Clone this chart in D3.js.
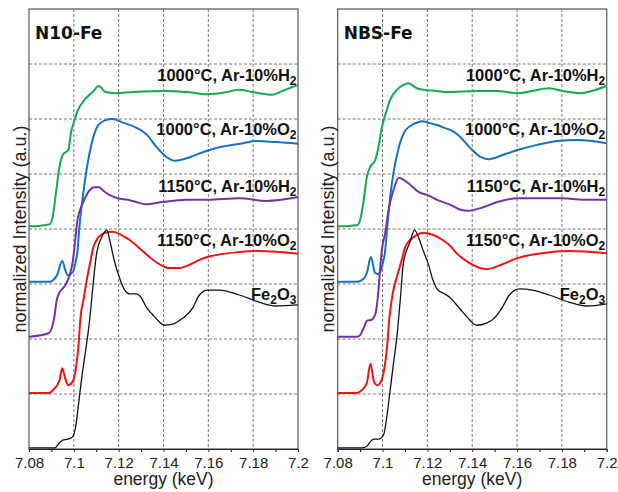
<!DOCTYPE html>
<html>
<head>
<meta charset="utf-8">
<script src="https://cdn.jsdelivr.net/npm/d3@7"></script>
<style>
  body { margin: 0; background: #fff; }
  svg text { font-family: "Liberation Sans", Arial, sans-serif; }
</style>
</head>
<body>
<div id="chart"></div>
<script>
'use strict';

const w = 618;
const h = 492;

// axis values
const energyTicks = [7.08, 7.1, 7.12, 7.14, 7.16, 7.18, 7.2];
const energyMinor = [7.09, 7.11, 7.13, 7.15, 7.17, 7.19];
const gridY = [1, 2, 3, 4, 5, 6, 7];

const panelTitles = ["N10-Fe", "NBS-Fe"];

// series order: 1000C H2, 1000C O2, 1150C H2, 1150C O2, Fe2O3
const seriesLabels = [
  [["1000°C, Ar-10%H", 0], ["2", 1]],
  [["1000°C, Ar-10%O", 0], ["2", 1]],
  [["1150°C, Ar-10%H", 0], ["2", 1]],
  [["1150°C, Ar-10%O", 0], ["2", 1]],
  [["Fe", 0], ["2", 1], ["O", 0], ["3", 1]]
];
const seriesColors = ["#17a952", "#1672c0", "#7234a2", "#ee1414", "#111111"];
const seriesWidths = [2, 2, 2, 2, 1.3];

// N10-Fe spectra [energy keV, stacked intensity a.u.]
const n10H2_1000 = [[7.080,4.05],[7.087,4.07],[7.0893,4.09],[7.0907,4.25],[7.092,4.65],[7.0936,5.13],[7.0951,5.35],[7.0976,5.44],[7.0987,5.75],[7.1003,5.98],[7.1018,6.16],[7.1048,6.35],[7.1084,6.49],[7.1111,6.60],[7.1142,6.49],[7.1182,6.47],[7.1262,6.49],[7.1413,6.51],[7.1502,6.49],[7.1596,6.45],[7.1670,6.48],[7.1738,6.53],[7.1796,6.49],[7.1884,6.44],[7.1929,6.51],[7.2,6.62]];
const n10O2_1000 = [[7.080,3.04],[7.089,3.04],[7.0907,3.07],[7.0925,3.16],[7.0948,3.42],[7.0962,3.25],[7.0973,3.16],[7.0996,3.22],[7.1010,3.44],[7.1015,3.55],[7.1025,4.04],[7.1042,4.65],[7.1064,5.25],[7.1087,5.67],[7.1109,5.89],[7.1142,5.98],[7.1173,6.00],[7.1222,5.93],[7.1280,5.84],[7.1324,5.72],[7.1369,5.49],[7.1413,5.31],[7.1453,5.24],[7.1520,5.31],[7.1578,5.40],[7.1653,5.49],[7.1756,5.56],[7.1813,5.60],[7.1902,5.58],[7.2,5.55]];
const n10H2_1150 = [[7.080,2.04],[7.089,2.11],[7.0912,2.38],[7.0924,2.71],[7.0935,2.84],[7.0957,2.95],[7.0979,3.13],[7.0994,3.38],[7.1008,3.86],[7.1016,4.16],[7.1040,4.47],[7.1064,4.67],[7.1093,4.76],[7.1113,4.76],[7.1133,4.69],[7.1158,4.62],[7.1196,4.56],[7.1240,4.53],[7.1262,4.51],[7.1324,4.45],[7.1396,4.49],[7.1502,4.53],[7.1596,4.53],[7.1738,4.56],[7.1858,4.51],[7.2,4.58]];
const n10O2_1150 = [[7.080,1.02],[7.089,1.02],[7.0907,1.07],[7.0936,1.25],[7.0948,1.47],[7.0961,1.29],[7.0975,1.16],[7.0994,1.22],[7.1008,1.44],[7.1019,1.80],[7.1030,2.40],[7.1045,2.76],[7.1060,3.13],[7.1071,3.35],[7.1086,3.65],[7.1108,3.84],[7.1138,3.93],[7.1173,3.95],[7.1212,3.89],[7.1249,3.80],[7.1293,3.65],[7.1338,3.49],[7.1382,3.36],[7.1427,3.29],[7.1471,3.29],[7.1516,3.35],[7.1560,3.44],[7.1596,3.49],[7.1738,3.58],[7.1827,3.60],[7.2,3.55]];
const n10Fe2O3 = [[7.080,0.02],[7.0916,0.02],[7.0935,0.11],[7.095,0.16],[7.0972,0.18],[7.0994,0.22],[7.1008,0.40],[7.1023,0.89],[7.1038,1.38],[7.1053,1.80],[7.1069,2.29],[7.1085,2.95],[7.1100,3.51],[7.1123,3.84],[7.1138,3.95],[7.1148,3.98],[7.1160,3.80],[7.1182,3.40],[7.1204,3.11],[7.1227,2.89],[7.1249,2.82],[7.1279,2.82],[7.1301,2.75],[7.1323,2.58],[7.1352,2.44],[7.1382,2.31],[7.1404,2.25],[7.1441,2.27],[7.1486,2.38],[7.1530,2.56],[7.1560,2.80],[7.1596,2.89],[7.1649,2.89],[7.1738,2.80],[7.1827,2.67],[7.1902,2.60],[7.2,2.62]];

// NBS-Fe spectra
const nbsH2_1000 = [[7.080,4.05],[7.0886,4.07],[7.0900,4.16],[7.0916,4.53],[7.0930,4.95],[7.0945,5.13],[7.0967,5.25],[7.0982,5.49],[7.0997,5.85],[7.1012,6.07],[7.1034,6.35],[7.1064,6.53],[7.1093,6.62],[7.1116,6.65],[7.1152,6.56],[7.1182,6.53],[7.1241,6.51],[7.1286,6.49],[7.1419,6.51],[7.1508,6.51],[7.1601,6.47],[7.1744,6.56],[7.1801,6.51],[7.1877,6.47],[7.2,6.60]];
const nbsO2_1000 = [[7.080,3.04],[7.0886,3.04],[7.0908,3.07],[7.0930,3.20],[7.0948,3.49],[7.0967,3.20],[7.0982,3.18],[7.0997,3.31],[7.1012,3.62],[7.1021,4.04],[7.1036,4.65],[7.1051,5.07],[7.1073,5.49],[7.1103,5.80],[7.1140,5.91],[7.1177,5.96],[7.1207,5.93],[7.1244,5.89],[7.1288,5.82],[7.1303,5.80],[7.1348,5.67],[7.1392,5.47],[7.1437,5.31],[7.1472,5.27],[7.1539,5.35],[7.1606,5.44],[7.1690,5.53],[7.1779,5.60],[7.1868,5.62],[7.2,5.56]];
const nbsH2_1150 = [[7.080,2.04],[7.0886,2.04],[7.0900,2.07],[7.0916,2.20],[7.0930,2.33],[7.0952,2.35],[7.0967,2.44],[7.0982,2.89],[7.0990,3.31],[7.0997,3.62],[7.1012,3.93],[7.1027,4.35],[7.1049,4.71],[7.1073,4.93],[7.1096,4.89],[7.1125,4.80],[7.1162,4.67],[7.1199,4.62],[7.1244,4.53],[7.1303,4.44],[7.1348,4.35],[7.1383,4.33],[7.1437,4.38],[7.1512,4.49],[7.1606,4.56],[7.1717,4.56],[7.1806,4.56],[7.1895,4.53],[7.2,4.53]];
const nbsO2_1150 = [[7.080,1.02],[7.0886,1.02],[7.0908,1.07],[7.0930,1.20],[7.0946,1.55],[7.0962,1.22],[7.0977,1.16],[7.0992,1.22],[7.1007,1.44],[7.1019,1.80],[7.1031,2.40],[7.1046,2.84],[7.1064,3.13],[7.1086,3.44],[7.1101,3.67],[7.1123,3.80],[7.1152,3.89],[7.1182,3.93],[7.1226,3.89],[7.1268,3.80],[7.1300,3.70],[7.1330,3.56],[7.1388,3.38],[7.1464,3.27],[7.1535,3.36],[7.1601,3.47],[7.1712,3.56],[7.1832,3.60],[7.2,3.56]];
const nbsFe2O3 = [[7.080,0.02],[7.0908,0.02],[7.0930,0.05],[7.0945,0.13],[7.0960,0.18],[7.0982,0.18],[7.1004,0.25],[7.1019,0.58],[7.1034,1.07],[7.1049,1.56],[7.1064,2.04],[7.1079,2.71],[7.1093,3.38],[7.1101,3.53],[7.1121,3.75],[7.1143,3.98],[7.1165,3.80],[7.1180,3.62],[7.1203,3.38],[7.1225,3.07],[7.1247,2.89],[7.1268,2.84],[7.1299,2.76],[7.1343,2.56],[7.1388,2.35],[7.1419,2.25],[7.1464,2.29],[7.1499,2.38],[7.1535,2.58],[7.1566,2.80],[7.1611,2.91],[7.1668,2.89],[7.1744,2.80],[7.1832,2.67],[7.1908,2.60],[7.2,2.64]];

const panelSeries = [
  [n10H2_1000, n10O2_1000, n10H2_1150, n10O2_1150, n10Fe2O3],
  [nbsH2_1000, nbsO2_1000, nbsH2_1150, nbsO2_1150, nbsFe2O3]
];

// label baselines in data units (layout)
const labelY = [6.69, 5.71, 4.67, 3.69, 2.71];

const plotTop = 9, plotBottom = 449;
const panelX = [[29, 298], [337.7, 606.7]];

const svg = d3.select("#chart").append("svg")
  .attr("width", w)
  .attr("height", h);

const y = d3.scaleLinear().domain([0, 8]).range([plotBottom, plotTop]);

function drawPanel(idx) {
  const [x0, x1] = panelX[idx];
  const x = d3.scaleLinear().domain([7.08, 7.2]).range([x0, x1]);
  const g = svg.append("g");

  //gridlines
  g.selectAll("line.vgrid")
    .data(energyTicks.slice(1, -1))
    .enter().append("line")
    .attr("x1", d => x(d)).attr("x2", d => x(d))
    .attr("y1", plotTop).attr("y2", plotBottom)
    .attr("stroke", "#555").attr("stroke-width", 0.8)
    .attr("stroke-dasharray", "3,2");

  g.selectAll("line.hgrid")
    .data(gridY)
    .enter().append("line")
    .attr("x1", x0).attr("x2", x1)
    .attr("y1", d => y(d)).attr("y2", d => y(d))
    .attr("stroke", "#555").attr("stroke-width", 0.8)
    .attr("stroke-dasharray", "3,2");

  //frame
  g.append("rect")
    .attr("x", x0).attr("y", plotTop)
    .attr("width", x1 - x0).attr("height", plotBottom - plotTop)
    .attr("fill", "none").attr("stroke", "#555").attr("stroke-width", 1.2);

  //bottom axis: minor ticks, then major ticks with labels
  g.append("g")
    .attr("transform", "translate(0," + plotBottom + ")")
    .call(d3.axisBottom(x).tickValues(energyMinor).tickSize(3).tickFormat(""))
    .call(a => a.select(".domain").remove());

  const ax = g.append("g")
    .attr("transform", "translate(0," + plotBottom + ")")
    .call(d3.axisBottom(x).tickValues(energyTicks).tickSize(3).tickPadding(5)
      .tickFormat(d => String(d)));
  ax.select(".domain").attr("stroke", "#222").attr("stroke-width", 1.2);
  ax.selectAll("line").attr("stroke", "#333");
  ax.selectAll("text")
    .attr("fill", "#222")
    .style("font-size", "15px")
    .style("font-family", "'Liberation Sans', Arial, sans-serif");

  //curves
  const line = d3.line()
    .x(d => x(d[0]))
    .y(d => y(d[1]))
    .curve(d3.curveMonotoneX);

  g.selectAll("path.spec")
    .data(panelSeries[idx])
    .enter().append("path")
    .attr("class", "spec")
    .attr("d", line)
    .attr("fill", "none")
    .attr("stroke", (d, i) => seriesColors[i])
    .attr("stroke-width", (d, i) => seriesWidths[i])
    .attr("stroke-linejoin", "round");

  //series labels
  const lbl = g.selectAll("text.lbl")
    .data(seriesLabels)
    .enter().append("text")
    .attr("class", "lbl")
    .attr("x", x1 - 1.5)
    .attr("y", (d, i) => y(labelY[i]))
    .attr("text-anchor", "end")
    .attr("fill", "#111")
    .style("font-weight", "bold")
    .style("font-size", "16.5px");

  lbl.selectAll("tspan")
    .data(d => d)
    .enter().append("tspan")
    .text(d => d[0])
    .attr("dy", (d, i) => {
      if (d[1]) return 4;
      return i > 0 ? -4 : 0;
    })
    .style("font-size", d => d[1] ? "12px" : null);

  //panel title
  g.append("text")
    .attr("x", x0 + 6)
    .attr("y", 39)
    .attr("fill", "#111")
    .style("font-family", "'DejaVu Sans', Verdana, sans-serif")
    .style("font-weight", "bold")
    .style("font-size", "17px")
    .text(panelTitles[idx]);

  //axis titles
  g.append("text")
    .attr("transform", "translate(" + (x0 - 3.5) + "," + ((plotTop + plotBottom) / 2) + ") rotate(-90)")
    .attr("text-anchor", "middle")
    .attr("fill", "#222")
    .style("font-size", "18px")
    .text("normalized Intensity (a.u.)");

  g.append("text")
    .attr("x", (x0 + x1) / 2)
    .attr("y", 485)
    .attr("text-anchor", "middle")
    .attr("fill", "#222")
    .style("font-size", "17.5px")
    .text("energy (keV)");
}

drawPanel(0);
drawPanel(1);
</script>
</body>
</html>
